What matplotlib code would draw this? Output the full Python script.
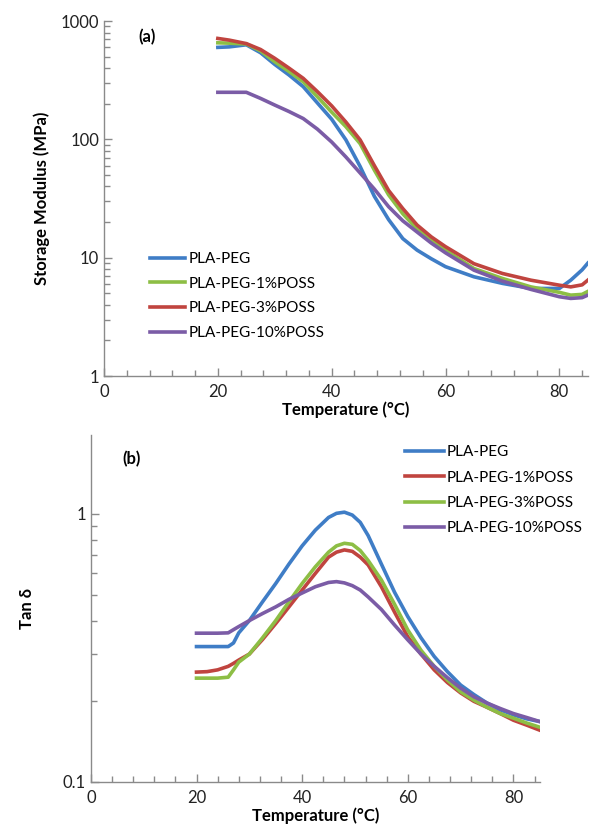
import matplotlib
matplotlib.use("Agg")
import matplotlib.pyplot as plt
from matplotlib.ticker import FixedLocator, NullFormatter, FixedFormatter

plt.rcParams['font.family'] = ['Lato', 'DejaVu Sans']

# (a) storage modulus, MPa
temp_a = [20, 22, 25, 27.5, 30, 32.5, 35, 37.5, 40, 42.5, 45, 47.5, 50, 52.5, 55,
          57.5, 60, 65, 70, 75, 80, 82, 84, 85]
e_peg    = [599, 605, 630, 540, 430, 350, 279, 203, 148, 99, 59, 33, 21, 14.5, 11.6,
            9.8, 8.4, 6.9, 6.07, 5.5, 5.5, 6.46, 7.9, 9.0]
e_poss1  = [655, 650, 640, 560, 453, 375, 307, 229, 170, 128, 92, 55, 34, 23.5, 17.5,
            14, 11.6, 8.1, 6.68, 5.67, 5.1, 4.83, 4.9, 5.19]
e_poss3  = [713, 690, 645, 575, 484, 400, 328, 253, 192, 140, 99, 60, 37, 26, 18.9,
            15, 12.4, 8.9, 7.36, 6.46, 5.86, 5.67, 5.9, 6.46]
e_poss10 = [250, 250, 250, 222, 195, 172, 150, 122, 95, 71, 52, 38, 27, 20.5, 16.5,
            13.3, 11, 7.85, 6.34, 5.4, 4.68, 4.53, 4.6, 4.83]

# (b) tan delta
temp_b = [20, 22, 24, 26, 27, 28, 30, 32.5, 35, 37.5, 40, 42.5, 45, 46.5, 48, 49.5,
          51, 52.5, 55, 57.5, 60, 62.5, 65, 67.5, 70, 72.5, 75, 77.5, 80, 82.5, 85]
t_peg    = [0.32, 0.32, 0.32, 0.32, 0.33, 0.36, 0.40, 0.47, 0.55, 0.65, 0.76, 0.87,
            0.97, 1.005, 1.015, 0.99, 0.93, 0.83, 0.65, 0.51, 0.414, 0.345, 0.294,
            0.258, 0.23, 0.212, 0.197, 0.186, 0.178, 0.172, 0.168]
t_poss1  = [0.257, 0.258, 0.262, 0.27, 0.277, 0.285, 0.30, 0.34, 0.39, 0.45, 0.52,
            0.60, 0.69, 0.72, 0.734, 0.725, 0.69, 0.645, 0.535, 0.43, 0.348, 0.30,
            0.262, 0.235, 0.215, 0.20, 0.19, 0.18, 0.17, 0.163, 0.156]
t_poss3  = [0.244, 0.244, 0.244, 0.246, 0.262, 0.28, 0.30, 0.345, 0.40, 0.47, 0.55,
            0.635, 0.72, 0.76, 0.777, 0.77, 0.73, 0.67, 0.567, 0.46, 0.369, 0.31,
            0.27, 0.24, 0.217, 0.202, 0.19, 0.18, 0.173, 0.166, 0.16]
t_poss10 = [0.359, 0.359, 0.359, 0.36, 0.37, 0.38, 0.40, 0.425, 0.45, 0.48, 0.507,
            0.535, 0.555, 0.559, 0.553, 0.54, 0.52, 0.49, 0.44, 0.385, 0.339, 0.30,
            0.27, 0.245, 0.224, 0.208, 0.197, 0.188, 0.18, 0.174, 0.168]

blue, red, green, purple = "#3F7DC6", "#C0443F", "#8DBE45", "#7B5CA6"
spine_c = "#8a8a8a"
lw = 2.6

fig = plt.figure(figsize=(5.9, 8.32), dpi=100)
ax1 = fig.add_axes([0.1763, 0.548, 0.82, 0.4267])
ax2 = fig.add_axes([0.154, 0.0601, 0.761, 0.4171])


def style(ax):
    for s in ["top", "right"]:
        ax.spines[s].set_visible(False)
    for s in ["left", "bottom"]:
        ax.spines[s].set_color(spine_c)
        ax.spines[s].set_linewidth(1.0)
    ax.set_yscale("log")
    ax.set_xlim(0, 85)
    ax.xaxis.set_major_locator(FixedLocator([0, 20, 40, 60, 80]))
    ax.xaxis.set_minor_locator(FixedLocator(range(0, 85, 4)))
    ax.tick_params(which="both", direction="in", color=spine_c, labelsize=12,
                   labelcolor="#222222")
    ax.tick_params(which="major", length=6, width=1)
    ax.tick_params(which="minor", length=4, width=1)
    ax.tick_params(axis="x", pad=6)


# panel (a)
style(ax1)
ax1.plot(temp_a, e_peg, color=blue, lw=lw, label="PLA-PEG")
ax1.plot(temp_a, e_poss1, color=green, lw=lw, label="PLA-PEG-1%POSS")
ax1.plot(temp_a, e_poss3, color=red, lw=lw, label="PLA-PEG-3%POSS")
ax1.plot(temp_a, e_poss10, color=purple, lw=lw, label="PLA-PEG-10%POSS")
ax1.set_ylim(1, 1000)
ax1.yaxis.set_major_locator(FixedLocator([1, 10, 100, 1000]))
ax1.yaxis.set_major_formatter(FixedFormatter(["1", "10", "100", "1000"]))
ax1.yaxis.set_minor_locator(FixedLocator([m * d for d in (1, 10, 100) for m in range(2, 10)]))
ax1.yaxis.set_minor_formatter(NullFormatter())
ax1.set_ylabel("Storage Modulus (MPa)", fontsize=12, fontweight="bold", labelpad=8)
ax1.set_xlabel("Temperature (°C)", fontsize=12, fontweight="bold", labelpad=1)
ax1.text(0.07, 0.955, "(a)", transform=ax1.transAxes, fontsize=12,
         fontweight="bold", va="center", ha="left")
ax1.legend(loc="upper left", bbox_to_anchor=(0.254, 0.697), bbox_transform=fig.transFigure,
           frameon=False, fontsize=11, handlelength=2.3, handletextpad=0.25,
           labelspacing=0.7, borderpad=0, borderaxespad=0)

# panel (b)
style(ax2)
ax2.plot(temp_b, t_peg, color=blue, lw=lw, label="PLA-PEG")
ax2.plot(temp_b, t_poss1, color=red, lw=lw, label="PLA-PEG-1%POSS")
ax2.plot(temp_b, t_poss3, color=green, lw=lw, label="PLA-PEG-3%POSS")
ax2.plot(temp_b, t_poss10, color=purple, lw=lw, label="PLA-PEG-10%POSS")
ax2.set_ylim(0.1, 1.97)
ax2.yaxis.set_major_locator(FixedLocator([0.1, 1]))
ax2.yaxis.set_major_formatter(FixedFormatter(["0.1", "1"]))
ax2.yaxis.set_minor_locator(FixedLocator([m / 10 for m in range(2, 10)]))
ax2.yaxis.set_minor_formatter(NullFormatter())
ax2.set_ylabel("Tan δ", fontsize=12, fontweight="bold", labelpad=20)
ax2.set_xlabel("Temperature (°C)", fontsize=12, fontweight="bold", labelpad=1)
ax2.text(0.07, 0.93, "(b)", transform=ax2.transAxes, fontsize=12,
         fontweight="bold", va="center", ha="left")
ax2.legend(loc="upper left", bbox_to_anchor=(0.686, 0.465), bbox_transform=fig.transFigure,
           frameon=False, fontsize=11, handlelength=2.6, handletextpad=0.15,
           labelspacing=0.75, borderpad=0, borderaxespad=0)

fig.savefig("out.png", dpi=100)
